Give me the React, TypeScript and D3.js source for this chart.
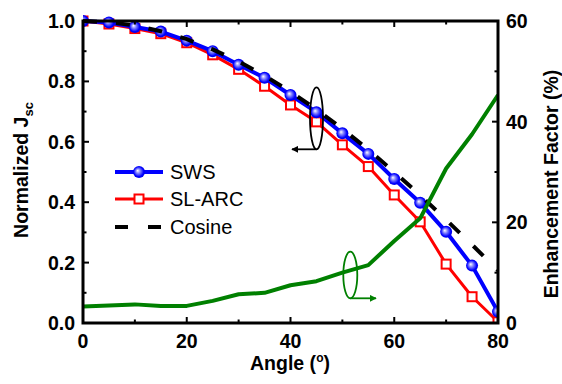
import React from "react";
import * as d3 from "d3";

const angles = [0, 5, 10, 15, 20, 25, 30, 35, 40, 45, 50, 55, 60, 65, 70, 75, 80];
const sws = [1.0, 0.995, 0.98, 0.965, 0.935, 0.9, 0.855, 0.812, 0.755, 0.698, 0.628, 0.56, 0.477, 0.398, 0.302, 0.19, 0.037];
const slarc = [1.0, 0.99, 0.975, 0.958, 0.928, 0.888, 0.84, 0.784, 0.722, 0.666, 0.59, 0.518, 0.424, 0.335, 0.195, 0.087, 0.004];
const cosine = [1.0, 0.996, 0.985, 0.966, 0.94, 0.906, 0.866, 0.819, 0.766, 0.707, 0.643, 0.574, 0.5, 0.423, 0.342, 0.259, 0.174];
const enhancement = [3.3, 3.5, 3.7, 3.4, 3.4, 4.4, 5.7, 6.0, 7.5, 8.3, 10.0, 11.5, 16.3, 20.8, 30.7, 37.5, 45.3];

const xTicks = [0, 20, 40, 60, 80];
const xMinor = [10, 30, 50, 70];
const yTicks = [0, 0.2, 0.4, 0.6, 0.8, 1.0];
const yMinor = [0.1, 0.3, 0.5, 0.7, 0.9];
const y2Ticks = [0, 20, 40, 60];
const y2Minor = [10, 30, 50];
const legendItems = ["SWS", "SL-ARC", "Cosine"];

const L = 83, R = 498, T = 21, B = 323;
const FONT = "'Liberation Sans', Arial, sans-serif";

export default function App() {
  const x = d3.scaleLinear().domain([0, 80]).range([L, R]);
  const y = d3.scaleLinear().domain([0, 1]).range([B, T]);
  const y2 = d3.scaleLinear().domain([0, 60]).range([B, T]);

  const lineL = (vals: number[]) =>
    d3.line<number>().x((_, i) => x(angles[i])).y((d) => y(d))(vals) as string;
  const lineR = d3.line<number>().x((_, i) => x(angles[i])).y((d) => y2(d))(enhancement) as string;

  const maj = 6, mnr = 3.5;
  const legendY = [172, 199, 227];
  const fs = 19.5;

  return (
    <svg width={562} height={384} style={{ position: "absolute", left: 0, top: 0 }} fontFamily={FONT}>
      <defs>
        <radialGradient id="ball" cx="0.5" cy="0.5" r="0.55" fx="0.38" fy="0.38">
          <stop offset="0" stopColor="#ffffff" />
          <stop offset="0.35" stopColor="#8080ff" />
          <stop offset="0.75" stopColor="#0000ff" />
          <stop offset="1" stopColor="#0000e0" />
        </radialGradient>
        <clipPath id="plotclip">
          <rect x={L} y={T - 8} width={R - L} height={B - T + 8} />
        </clipPath>
        <marker id="arrowK" viewBox="0 0 10 10" refX="9" refY="5" markerWidth="4" markerHeight="4" orient="auto">
          <path d="M0,0 L10,5 L0,10 z" fill="#000" />
        </marker>
        <marker id="arrowG" viewBox="0 0 10 10" refX="9" refY="5" markerWidth="4" markerHeight="4" orient="auto">
          <path d="M0,0 L10,5 L0,10 z" fill="#008000" />
        </marker>
      </defs>

      <g clipPath="url(#plotclip)">
        <path d={lineL(slarc)} fill="none" stroke="#ff0000" strokeWidth={3} strokeLinejoin="round" />
        {slarc.map((v, i) => (
          <rect key={"r" + i} x={x(angles[i]) - 4.5} y={y(v) - 4.5} width={9} height={9} fill="#fff" stroke="#ff0000" strokeWidth={2} />
        ))}
        <path d={lineL(sws)} fill="none" stroke="#0000ff" strokeWidth={4} strokeLinejoin="round" />
        {sws.map((v, i) => (
          <circle key={"b" + i} cx={x(angles[i])} cy={y(v)} r={6} fill="url(#ball)" />
        ))}
        <path d={lineL(cosine)} fill="none" stroke="#000" strokeWidth={4} strokeDasharray="14 19" />
        <path d={lineR} fill="none" stroke="#008000" strokeWidth={4} strokeLinejoin="round" />
      </g>

      {/* annotations */}
      <ellipse cx={316.5} cy={118.3} rx={6.5} ry={31} fill="none" stroke="#000" strokeWidth={1.8} />
      <line x1={316.5} y1={149.3} x2={292} y2={149.3} stroke="#000" strokeWidth={1.8} markerEnd="url(#arrowK)" />
      <ellipse cx={350.3} cy={275} rx={7} ry={23.3} fill="none" stroke="#008000" strokeWidth={1.8} />
      <line x1={350.3} y1={298.3} x2={376} y2={298.3} stroke="#008000" strokeWidth={1.8} markerEnd="url(#arrowG)" />

      {/* frame */}
      <rect x={L} y={T} width={R - L} height={B - T} fill="none" stroke="#000" strokeWidth={3} />

      {/* x ticks */}
      {xTicks.map((t) => (
        <g key={"xt" + t}>
          <line x1={x(t)} x2={x(t)} y1={B} y2={B - maj} stroke="#000" strokeWidth={2} />
          <line x1={x(t)} x2={x(t)} y1={T} y2={T + maj} stroke="#000" strokeWidth={2} />
          <text x={x(t)} y={347.5} textAnchor="middle" fontSize={fs} fontWeight="bold">{t}</text>
        </g>
      ))}
      {xMinor.map((t) => (
        <g key={"xm" + t}>
          <line x1={x(t)} x2={x(t)} y1={B} y2={B - mnr} stroke="#000" strokeWidth={2} />
          <line x1={x(t)} x2={x(t)} y1={T} y2={T + mnr} stroke="#000" strokeWidth={2} />
        </g>
      ))}

      {/* left y ticks */}
      {yTicks.map((t) => (
        <g key={"yt" + t}>
          <line x1={L} x2={L + maj} y1={y(t)} y2={y(t)} stroke="#000" strokeWidth={2} />
          <text x={75} y={y(t)} dy="0.36em" textAnchor="end" fontSize={fs} fontWeight="bold">{t.toFixed(1)}</text>
        </g>
      ))}
      {yMinor.map((t) => (
        <line key={"ym" + t} x1={L} x2={L + mnr} y1={y(t)} y2={y(t)} stroke="#000" strokeWidth={2} />
      ))}

      {/* right y ticks */}
      {y2Ticks.map((t) => (
        <g key={"y2t" + t}>
          <line x1={R} x2={R - maj} y1={y2(t)} y2={y2(t)} stroke="#000" strokeWidth={2} />
          <text x={506} y={y2(t)} dy="0.36em" textAnchor="start" fontSize={fs} fontWeight="bold">{t}</text>
        </g>
      ))}
      {y2Minor.map((t) => (
        <line key={"y2m" + t} x1={R} x2={R - mnr} y1={y2(t)} y2={y2(t)} stroke="#000" strokeWidth={2} />
      ))}

      {/* axis titles */}
      <text x={290} y={370} textAnchor="middle" fontSize={fs} fontWeight="bold">
        Angle (<tspan dy={-8} fontSize={12}>o</tspan><tspan dy={8}>)</tspan>
      </text>
      <text transform={`translate(28,170) rotate(-90)`} textAnchor="middle" fontSize={fs} fontWeight="bold">
        Normalized J<tspan dy={5} fontSize={13}>sc</tspan>
      </text>
      <text transform={`translate(558,184) rotate(-90)`} textAnchor="middle" fontSize={fs} fontWeight="bold">
        Enhancement Factor (%)
      </text>

      {/* legend */}
      <line x1={115} x2={163} y1={legendY[0]} y2={legendY[0]} stroke="#0000ff" strokeWidth={4} />
      <circle cx={139} cy={legendY[0]} r={6} fill="url(#ball)" />
      <line x1={115} x2={163} y1={legendY[1]} y2={legendY[1]} stroke="#ff0000" strokeWidth={3} />
      <rect x={134.5} y={legendY[1] - 4.5} width={9} height={9} fill="#fff" stroke="#ff0000" strokeWidth={2} />
      <line x1={115} x2={163} y1={legendY[2]} y2={legendY[2]} stroke="#000" strokeWidth={4} strokeDasharray="13 20" />
      {legendItems.map((s, i) => (
        <text key={s} x={170} y={legendY[i]} dy="0.36em" fontSize={20}>{s}</text>
      ))}
    </svg>
  );
}
